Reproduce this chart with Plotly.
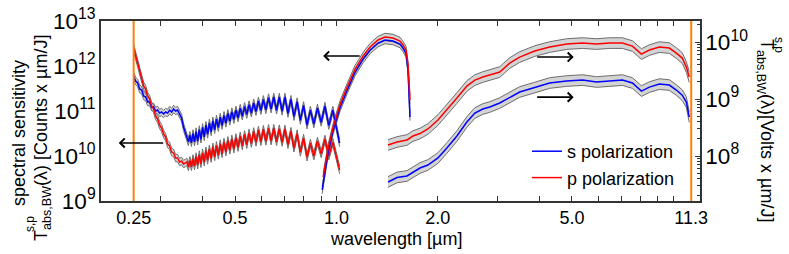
import numpy as np
import plotly.graph_objects as go

# ---------------- data ----------------
# UV-VIS range (left axis, Counts x um/J)
wl_uv = [0.2500, 0.2534, 0.2569, 0.2605, 0.2640, 0.2677, 0.2713, 0.2751, 0.2788, 0.2827,
         0.2866, 0.2905, 0.2945, 0.2985, 0.3026, 0.3068, 0.3110, 0.3153, 0.3196, 0.3240,
         0.3285, 0.3330, 0.3375, 0.3422, 0.3469, 0.3516, 0.3565,
         0.3597, 0.3634, 0.3672, 0.3711, 0.3750, 0.3791, 0.3831, 0.3873, 0.3916, 0.3960,
         0.4005, 0.4050, 0.4098, 0.4146, 0.4195, 0.4246, 0.4297, 0.4350, 0.4403, 0.4460,
         0.4517, 0.4575, 0.4636, 0.4697, 0.4760, 0.4826, 0.4892, 0.4960, 0.5030, 0.5105,
         0.5179, 0.5255, 0.5336, 0.5417, 0.5501, 0.5590, 0.5679, 0.5770, 0.5865, 0.5967,
         0.6068, 0.6173, 0.6285, 0.6398, 0.6515, 0.6640, 0.6766, 0.6897, 0.7032, 0.7179,
         0.7326, 0.7479, 0.7645, 0.7813, 0.7987, 0.8177, 0.8368, 0.8569, 0.8780, 0.9009,
         0.9242, 0.9488, 0.9756, 1.022]
s_uv = [6.0e11, 4.64e11, 4.19e11, 3.08e11, 2.93e11, 2.15e11, 2.05e11, 1.58e11, 1.58e11, 1.23e11,
        1.23e11, 1.0e11, 1.05e11, 9.0e10, 9.5e10, 8.58e10, 9.5e10, 9.0e10, 1.05e11, 9.5e10,
        1.11e11, 1.0e11, 1.05e11, 8.15e10, 6.99e10, 4.41e10, 3.24e10,
        2.78e10, 2.06e10, 2.90e10, 1.97e10, 3.16e10, 2.05e10, 3.50e10, 2.13e10, 3.88e10, 2.35e10,
        4.32e10, 2.66e10, 4.84e10, 3.02e10, 5.41e10, 3.43e10, 6.06e10, 3.82e10, 6.64e10, 4.26e10,
        7.32e10, 4.74e10, 8.02e10, 5.30e10, 8.89e10, 5.87e10, 9.70e10, 6.41e10, 1.06e11, 6.99e10,
        1.16e11, 7.63e10, 1.27e11, 8.32e10, 1.39e11, 8.93e10, 1.52e11, 9.65e10, 1.67e11, 1.02e11,
        1.82e11, 1.06e11, 1.99e11, 1.10e11, 2.05e11, 1.04e11, 2.05e11, 9.80e10, 2.05e11, 8.80e10,
        1.83e11, 7.47e10, 1.62e11, 6.15e10, 1.33e11, 4.84e10, 1.05e11, 5.12e10, 1.17e11, 5.55e10,
        1.29e11, 4.74e10, 1.05e11, 1.94e10]
p_uv = [2.51e12, 1.67e12, 1.17e12, 7.36e11, 5.41e11, 3.6e11, 3.08e11, 2.15e11, 1.85e11, 1.29e11,
        1.11e11, 7.74e10, 6.64e10, 4.89e10, 4.19e10, 3.08e10, 2.64e10, 1.85e10, 1.67e10, 1.23e10,
        1.17e10, 9.03e9, 9.03e9, 7.36e9, 7.74e9, 6.64e9, 7.0e9,
        7.43e9, 5.70e9, 8.02e9, 5.76e9, 8.80e9, 6.0e9, 9.75e9, 6.25e9, 1.08e10, 6.71e9,
        1.18e10, 7.28e9, 1.31e10, 7.98e9, 1.45e10, 8.71e9, 1.60e10, 9.50e9, 1.73e10, 1.03e10,
        1.89e10, 1.12e10, 2.05e10, 1.22e10, 2.23e10, 1.33e10, 2.41e10, 1.42e10, 2.59e10, 1.54e10,
        2.81e10, 1.66e10, 3.04e10, 1.78e10, 3.26e10, 1.89e10, 3.52e10, 2.0e10, 3.78e10, 2.07e10,
        3.94e10, 2.11e10, 4.13e10, 2.14e10, 4.15e10, 2.07e10, 4.06e10, 1.99e10, 3.98e10, 1.78e10,
        3.56e10, 1.48e10, 3.15e10, 1.20e10, 2.51e10, 9.40e9, 1.94e10, 9.95e9, 2.15e10, 1.11e10,
        2.39e10, 9.9e9, 2.05e10, 4.89e9]

# NIR range (left axis)
wl_nir_s = [0.907, 0.926, 0.945, 0.978, 1.026, 1.076, 1.136, 1.200, 1.259, 1.329,
            1.394, 1.472, 1.544, 1.576, 1.608, 1.631, 1.642, 1.653]
s_nir = [1.76e9, 4.41e9, 1.23e10, 3.78e10, 1.23e11, 2.93e11, 7.36e11, 1.43e12, 2.27e12, 3.24e12,
         3.78e12, 3.59e12, 3.08e12, 2.51e12, 1.94e12, 8.15e11, 2.93e11, 7.36e10]
wl_nir_p = [0.913, 0.926, 0.945, 0.978, 1.026, 1.076, 1.136, 1.200, 1.259, 1.329,
            1.394, 1.472, 1.544, 1.576, 1.608, 1.631, 1.642, 1.653]
p_nir = [3.41e9, 6.31e9, 1.51e10, 4.41e10, 1.43e11, 3.41e11, 8.58e11, 1.67e12, 2.64e12, 3.78e12,
         4.41e12, 4.19e12, 3.59e12, 2.93e12, 2.27e12, 1.05e12, 4.89e11, 1.76e11]

# MIR range (right axis, Volts x um/J)
wl_ir = [1.423, 1.513, 1.619, 1.687, 1.770, 1.868, 2.001, 2.127, 2.278, 2.438,
         2.575, 2.719, 2.852, 3.053, 3.268, 3.499, 3.876, 4.294, 4.822, 5.376,
         5.916, 6.465, 7.063, 7.561, 8.041, 8.491, 9.089, 9.730, 10.21, 10.63,
         10.93, 11.15]
s_ir = [3.50e7, 4.20e7, 4.46e7, 5.24e7, 6.15e7, 6.95e7, 9.23e7, 1.38e8, 2.24e8, 3.95e8,
        5.68e8, 6.68e8, 7.24e8, 8.51e8, 1.08e9, 1.33e9, 1.59e9, 1.91e9, 2.07e9, 2.15e9,
        1.99e9, 2.07e9, 2.15e9, 1.91e9, 1.38e9, 1.62e9, 1.83e9, 1.76e9, 1.44e9, 1.17e9,
        8.85e8, 4.83e8]
p_ir = [1.56e8, 1.76e8, 1.91e8, 2.24e8, 2.48e8, 2.98e8, 4.28e8, 6.41e8, 1.04e9, 1.69e9,
        2.15e9, 2.43e9, 2.64e9, 2.98e9, 4.28e9, 5.46e9, 6.95e9, 8.17e9, 9.23e9, 9.6e9,
        9.23e9, 9.6e9, 9.6e9, 8.51e9, 6.15e9, 7.24e9, 8.17e9, 7.85e9, 6.41e9, 5.24e9,
        3.64e9, 2.43e9]

# relative uncertainty (grey band)
unc_counts = 0.21
unc_volts = 0.24

# range limits (orange lines) and tick labels
limits = [0.25, 11.3]
x_ticks = [0.25, 0.5, 1.0, 2.0, 5.0, 11.3]
x_ticktext = ["0.25", "0.5", "1.0", "2.0", "5.0", "11.3"]
x_minor = [0.2, 0.3, 0.4, 0.6, 0.7, 0.8, 0.9, 3, 4, 6, 7, 8, 9, 10]

# ---------------- styles ----------------
FONT = "Liberation Sans, Arial, sans-serif"
BLUE = "#0000ff"
RED = "#ff0000"
EDGE = "#6e6e6e"
FILL = "#d4d4d4"
ORANGE = "#ff7f0e"
AX = "#333333"

fig = go.Figure()


def add_band(x, v, yaxis, unc):
    lo = [a / (1 + unc) for a in v]
    hi = [a * (1 + unc) for a in v]
    fig.add_trace(go.Scatter(x=x, y=lo, mode="lines", yaxis=yaxis,
                             line=dict(color=EDGE, width=1), showlegend=False, hoverinfo="skip"))
    fig.add_trace(go.Scatter(x=x, y=hi, mode="lines", yaxis=yaxis, fill="tonexty",
                             fillcolor=FILL, line=dict(color=EDGE, width=1),
                             showlegend=False, hoverinfo="skip"))


segments = [
    (wl_uv, s_uv, "y", unc_counts, BLUE, "s polarization"),
    (wl_uv, p_uv, "y", unc_counts, RED, "p polarization"),
    (wl_nir_s, s_nir, "y", unc_counts, BLUE, "s polarization"),
    (wl_nir_p, p_nir, "y", unc_counts, RED, "p polarization"),
    (wl_ir, s_ir, "y2", unc_volts, BLUE, "s polarization"),
    (wl_ir, p_ir, "y2", unc_volts, RED, "p polarization"),
]

for x, v, ya, unc, c, name in segments:
    add_band(x, v, ya, unc)

shown = set()
for x, v, ya, unc, c, name in segments:
    fig.add_trace(go.Scatter(x=x, y=v, mode="lines", yaxis=ya, name=name,
                             legendgroup=name, showlegend=name not in shown,
                             line=dict(color=c, width=1.5)))
    shown.add(name)

# orange range lines
for lim in limits:
    fig.add_shape(type="line", xref="x", yref="paper", x0=lim, x1=lim,
                  y0=0, y1=1, line=dict(color=ORANGE, width=2))

# arrows indicating axis
arrows = [
    (0.2258, 1.95e10, "y", 46),
    (0.913, 1.67e12, "y", 38),
    (5.06, 5.46e9, "y2", -38),
    (5.06, 1.08e9, "y2", -38),
]
for ax_x, ax_y, yr, off in arrows:
    fig.add_annotation(x=np.log10(ax_x), y=np.log10(ax_y), xref="x", yref=yr,
                       ax=off, ay=0, showarrow=True, arrowhead=4, arrowsize=1.1,
                       arrowwidth=1.6, arrowcolor="black", text="")


def px_x(px):
    return (px - 101) / 599


def px_y(py):
    return (201 - py) / 180


# axis titles (annotations)
TS = 18
tfont = dict(size=TS, family=FONT, color="black")
sfont = dict(size=12, family=FONT, color="black")
fig.add_annotation(text="wavelength [µm]", xref="paper", yref="paper",
                   x=px_x(396), y=px_y(239), showarrow=False,
                   font=tfont, xanchor="center", yanchor="middle")
fig.add_annotation(text="spectral sensitivity", xref="paper", yref="paper",
                   x=px_x(19), y=px_y(133), textangle=-90, showarrow=False,
                   font=tfont, xanchor="center", yanchor="middle")
fig.add_annotation(text="T<sub>abs,BW</sub>(λ) [Counts x µm/J]", xref="paper", yref="paper",
                   x=px_x(42), y=px_y(138), textangle=-90, showarrow=False,
                   font=tfont, xanchor="center", yanchor="middle")
fig.add_annotation(text="s,p", xref="paper", yref="paper",
                   x=px_x(30), y=px_y(224), textangle=-90, showarrow=False,
                   font=sfont, xanchor="center", yanchor="middle")
fig.add_annotation(text="T<sub>abs,BW</sub>(λ)[Volts x µm/J]", xref="paper", yref="paper",
                   x=px_x(766), y=px_y(130), textangle=90, showarrow=False,
                   font=tfont, xanchor="center", yanchor="middle")
fig.add_annotation(text="s,p", xref="paper", yref="paper",
                   x=px_x(779), y=px_y(45), textangle=90, showarrow=False,
                   font=sfont, xanchor="center", yanchor="middle")

fig.update_layout(
    width=789, height=254,
    margin=dict(l=101, r=89, t=21, b=53, autoexpand=False),
    paper_bgcolor="white", plot_bgcolor="white",
    font=dict(family=FONT, size=18, color="black"),
    xaxis=dict(type="log", range=[np.log10(0.2), np.log10(12)], automargin=False,
               tickvals=x_ticks, ticktext=x_ticktext, ticks="inside", ticklen=5,
               tickcolor=AX, showgrid=False, zeroline=False, showline=True, linecolor=AX,
               linewidth=1.5, mirror="allticks",
               minor=dict(tickvals=x_minor, ticks="inside", ticklen=3, tickcolor=AX, showgrid=False),
               tickfont=dict(size=18)),
    yaxis=dict(type="log", range=[9, 13], dtick=1, exponentformat="power", automargin=False,
               ticks="", showgrid=False, zeroline=False, showline=True, linecolor=AX,
               linewidth=1.5, tickfont=dict(size=18)),
    yaxis2=dict(type="log", range=[7.21, 10.37], dtick=1, exponentformat="power",
                automargin=False,
                overlaying="y", side="right", ticks="inside", ticklen=5, tickcolor=AX,
                showgrid=False, zeroline=False, showline=True, linecolor=AX, linewidth=1.5,
                minor=dict(dtick="D1", ticks="inside", ticklen=3, tickcolor=AX, showgrid=False),
                tickfont=dict(size=18)),
    legend=dict(x=px_x(680), y=px_y(196), xanchor="right", yanchor="bottom",
                bgcolor="rgba(0,0,0,0)", font=dict(size=18), tracegroupgap=0,
                itemwidth=30),
    showlegend=True,
)

fig.write_html("out.html", config={"displayModeBar": False},
               post_script="document.body.style.margin='0px';")
